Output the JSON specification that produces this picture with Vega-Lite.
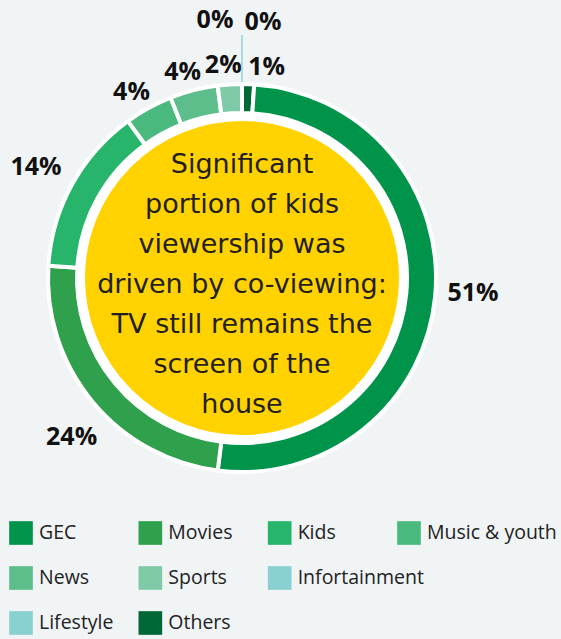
{
  "$schema": "https://vega.github.io/schema/vega-lite/v6.json",
  "width": 484,
  "height": 556,
  "autosize": {"type": "none"},
  "padding": {"left": 0, "top": 0, "right": 77, "bottom": 83},
  "background": "#f0f4f5",
  "config": {"view": {"stroke": null}, "font": "Open Sans"},
  "datasets": {
    "share": [
      {"cat": "Others", "pct": 1, "label": "1%", "ord": 0, "col": 1, "row": 2},
      {"cat": "GEC", "pct": 51, "label": "51%", "ord": 1, "col": 0, "row": 0},
      {"cat": "Movies", "pct": 24, "label": "24%", "ord": 2, "col": 1, "row": 0},
      {"cat": "Kids", "pct": 14, "label": "14%", "ord": 3, "col": 2, "row": 0},
      {"cat": "Music & youth", "pct": 4, "label": "4%", "ord": 4, "col": 3, "row": 0},
      {"cat": "News", "pct": 4, "label": "4%", "ord": 5, "col": 0, "row": 1},
      {"cat": "Sports", "pct": 2, "label": "2%", "ord": 6, "col": 1, "row": 1},
      {"cat": "Infortainment", "pct": 0, "label": "0%", "ord": 7, "col": 2, "row": 1},
      {"cat": "Lifestyle", "pct": 0, "label": "0%", "ord": 8, "col": 0, "row": 2}
    ],
    "note": [
      {"text": "Significant\nportion of kids\nviewership was\ndriven by co-viewing:\nTV still remains the\nscreen of the\nhouse"}
    ]
  },
  "data": {"name": "share"},
  "encoding": {
    "theta": {"field": "pct", "type": "quantitative", "stack": true},
    "order": {"field": "ord", "type": "quantitative"}
  },
  "layer": [
    {
      "mark": {"type": "arc", "outerRadius": 194, "innerRadius": 165, "stroke": "white", "strokeWidth": 4, "strokeJoin": "bevel"},
      "encoding": {
        "color": {
          "field": "cat", "type": "nominal", "legend": null,
          "scale": {
            "domain": ["GEC", "Movies", "Kids", "Music & youth", "News", "Sports", "Infortainment", "Lifestyle", "Others"],
            "range": ["#00944a", "#2fa04c", "#27b46b", "#4ab97e", "#5dbe8b", "#7fcaa6", "#88d0d1", "#88d0d1", "#006836"]
          }
        }
      }
    },
    {
      "data": {"name": "note"},
      "mark": {"type": "arc", "outerRadius": 161, "theta": 0, "theta2": 6.2832, "fill": "#ffd200", "stroke": "white", "strokeWidth": 8},
      "encoding": {"theta": null, "order": null}
    },
    {
      "data": {"name": "note"},
      "mark": {"type": "text", "font": "DejaVu Sans", "fontSize": 27, "lineHeight": 40, "lineBreak": "\n", "align": "center", "baseline": "alphabetic", "dy": -105, "color": "#231f20"},
      "encoding": {"theta": null, "order": null, "text": {"field": "text", "type": "nominal"}}
    },
    {
      "mark": {"type": "text", "radius": 232, "dy": -7, "fontSize": 25, "fontWeight": "bold", "color": "#111111", "align": "center", "baseline": "middle"},
      "encoding": {"text": {"condition": {"test": "datum.cat === 'GEC'", "field": "label"}, "value": ""}}
    },
    {
      "mark": {"type": "text", "radius": 238, "dx": 13, "dy": 7, "fontSize": 25, "fontWeight": "bold", "color": "#111111", "align": "center", "baseline": "middle"},
      "encoding": {"text": {"condition": {"test": "datum.cat === 'Movies'", "field": "label"}, "value": ""}}
    },
    {
      "mark": {"type": "text", "radius": 235, "dy": 2, "fontSize": 25, "fontWeight": "bold", "color": "#111111", "align": "center", "baseline": "middle"},
      "encoding": {"text": {"condition": {"test": "datum.cat === 'Kids'", "field": "label"}, "value": ""}}
    },
    {
      "mark": {"type": "text", "radius": 219, "dx": -5, "dy": 6, "fontSize": 25, "fontWeight": "bold", "color": "#111111", "align": "center", "baseline": "middle"},
      "encoding": {"text": {"condition": {"test": "datum.pct > 1 && datum.pct < 10", "field": "label"}, "value": ""}}
    },
    {
      "mark": {"type": "text", "radius": 212, "dx": 18, "dy": 1, "fontSize": 25, "fontWeight": "bold", "color": "#111111", "align": "center", "baseline": "middle"},
      "encoding": {"text": {"condition": {"test": "datum.cat === 'Others'", "field": "label"}, "value": ""}}
    },
    {
      "transform": [{"filter": "datum.cat === 'Infortainment'"}],
      "mark": {"type": "arc", "innerRadius": 196, "outerRadius": 243, "fillOpacity": 0, "stroke": "#86d0d2", "strokeWidth": 1.3, "strokeJoin": "bevel"},
      "encoding": {"order": null}
    },
    {
      "transform": [{"filter": "datum.cat === 'Infortainment'"}],
      "mark": {"type": "text", "radius": 258, "dx": -27, "fontSize": 25, "fontWeight": "bold", "color": "#111111", "align": "center", "baseline": "middle"},
      "encoding": {"order": null, "text": {"field": "label", "type": "nominal"}}
    },
    {
      "transform": [{"filter": "datum.cat === 'Lifestyle'"}],
      "mark": {"type": "text", "radius": 256, "dx": 21, "fontSize": 25, "fontWeight": "bold", "color": "#111111", "align": "center", "baseline": "middle"},
      "encoding": {"order": null, "text": {"field": "label", "type": "nominal"}}
    },
    {
      "mark": {"type": "square", "size": 560, "opacity": 1},
      "encoding": {
        "theta": null, "order": null,
        "x": {"field": "col", "type": "ordinal", "axis": null, "scale": {"type": "point", "range": [21, 409], "padding": 0}},
        "y": {"field": "row", "type": "ordinal", "axis": null, "scale": {"type": "point", "range": [533, 623], "padding": 0}},
        "color": {"field": "cat", "type": "nominal", "legend": null}
      }
    },
    {
      "mark": {"type": "text", "align": "left", "baseline": "middle", "dx": 18, "fontSize": 19.5, "color": "#222222"},
      "encoding": {
        "theta": null, "order": null,
        "x": {"field": "col", "type": "ordinal", "axis": null},
        "y": {"field": "row", "type": "ordinal", "axis": null},
        "text": {"field": "cat", "type": "nominal"}
      }
    }
  ]
}
